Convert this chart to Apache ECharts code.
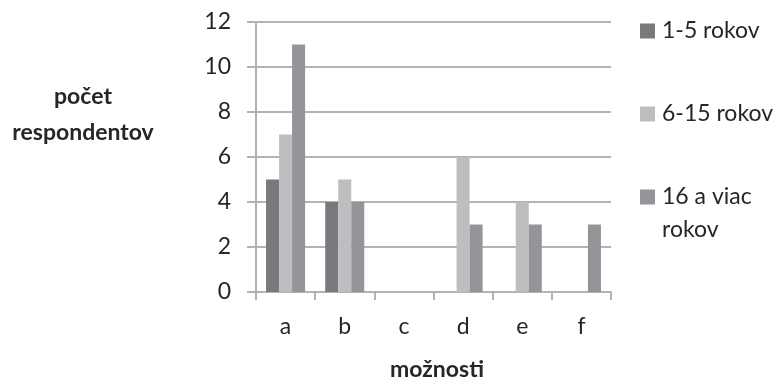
<!DOCTYPE html>
<html>
<head>
<meta charset="utf-8">
<script src="https://cdn.jsdelivr.net/npm/echarts@6/dist/echarts.min.js"></script>
<style>
html,body{margin:0;padding:0;background:#fff;}
#chart{width:782px;height:381px;}
</style>
</head>
<body>
<div id="chart"></div>
<script>
var categories = ['a', 'b', 'c', 'd', 'e', 'f'];
var seriesNames = ['1-5 rokov', '6-15 rokov', '16 a viac rokov'];
var values1to5 = [5, 4, 0, 0, 0, 0];
var values6to15 = [7, 5, 0, 6, 4, 0];
var values16plus = [11, 4, 0, 3, 3, 3];
var yTicks = [0, 2, 4, 6, 8, 10, 12];

var colors = ['#78797c', '#bdbec0', '#949598'];
var textColor = '#262626';
var font = 'Lato';
var lineColor = '#b3b3b3';

var chart = echarts.init(document.getElementById('chart'), null, {renderer: 'canvas'});

function legendAt(name, top, fmt) {
  return {
    data: [name],
    left: 640,
    top: top,
    orient: 'vertical',
    icon: 'rect',
    itemWidth: 15,
    itemHeight: 15,
    padding: 0,
    selectedMode: false,
    formatter: fmt || '{name}',
    textStyle: {fontFamily: font, fontSize: 23, color: textColor, lineHeight: 26, padding: [0, 0, 0, 2]}
  };
}

var option = {
  animation: false,
  backgroundColor: '#ffffff',
  color: colors,
  textStyle: {fontFamily: font},
  grid: {left: 256, right: 171, top: 22, bottom: 89, containLabel: false},
  legend: [
    legendAt(seriesNames[0], 18),
    legendAt(seriesNames[1], 101),
    legendAt(seriesNames[2], 184, '16 a viac')
  ],
  graphic: [
    {
      type: 'text',
      left: 662,
      top: 218,
      style: {text: 'rokov', fontFamily: font, fontSize: 23, fill: textColor}
    },
    {
      type: 'text',
      x: 83,
      y: 115,
      style: {
        text: 'počet\nrespondentov',
        fontFamily: font, fontSize: 23, fontWeight: 'bold', fill: textColor,
        align: 'center', verticalAlign: 'middle', lineHeight: 36
      }
    },
    {
      type: 'text',
      x: 437,
      y: 370,
      style: {
        text: 'možnosti',
        fontFamily: font, fontSize: 23, fontWeight: 'bold', fill: textColor,
        align: 'center', verticalAlign: 'middle'
      }
    }
  ],
  xAxis: {
    type: 'category',
    data: categories,
    axisLine: {show: true, lineStyle: {color: lineColor, width: 2}},
    axisTick: {show: true, length: 8, alignWithLabel: false, lineStyle: {color: lineColor, width: 2}},
    axisLabel: {fontFamily: font, fontSize: 23, color: textColor, margin: 23},
    splitLine: {show: false}
  },
  yAxis: {
    type: 'value',
    min: yTicks[0],
    max: yTicks[yTicks.length - 1],
    interval: yTicks[1] - yTicks[0],
    axisLine: {show: true, lineStyle: {color: lineColor, width: 2}},
    axisTick: {show: true, length: 9, lineStyle: {color: lineColor, width: 2}},
    axisLabel: {fontFamily: font, fontSize: 23, color: textColor, margin: 25},
    splitLine: {show: true, lineStyle: {color: lineColor, width: 2}}
  },
  series: [
    {name: seriesNames[0], type: 'bar', data: values1to5, barGap: '0%', barCategoryGap: '34%', itemStyle: {color: colors[0]}},
    {name: seriesNames[1], type: 'bar', data: values6to15, barGap: '0%', barCategoryGap: '34%', itemStyle: {color: colors[1]}},
    {name: seriesNames[2], type: 'bar', data: values16plus, barGap: '0%', barCategoryGap: '34%', itemStyle: {color: colors[2]}}
  ]
};

chart.setOption(option);
</script>
</body>
</html>
